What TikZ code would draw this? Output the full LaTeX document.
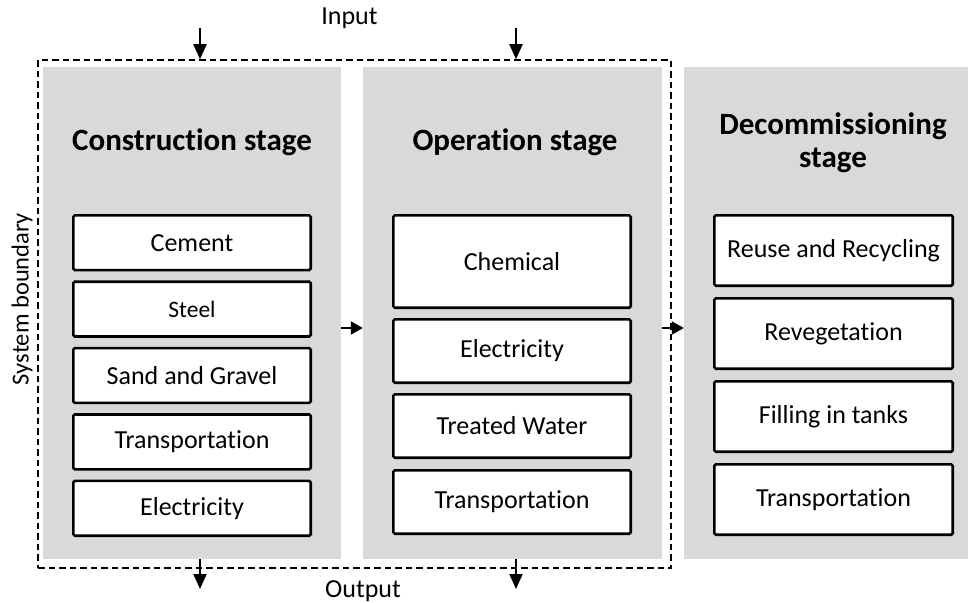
\documentclass[tikz,border=0pt]{standalone}
\usepackage{fontspec}
\setmainfont{Carlito}[Ligatures=NoCommon]
\usetikzlibrary{arrows.meta}
\definecolor{panelgray}{HTML}{D9D9D9}
\newcommand\dgItemFont{\fontsize{26}{30}\selectfont}
\newcommand\dgSmallFont{\fontsize{23.5}{28}\selectfont}
\newcommand\dgTitleFont{\fontsize{31}{33}\selectfont\bfseries}
\begin{document}
\begin{tikzpicture}[x=1pt,y=-1pt,
  panel/.style={fill=panelgray, draw=none, inner sep=0pt, minimum height=492pt},
  itembox/.style={draw=black, line width=2.6pt, fill=white, rounded corners=1.5pt,
    inner sep=0pt, font=\dgItemFont},
  cbox/.style={itembox, minimum width=237.4pt, minimum height=54.8pt},
  obox/.style={itembox, minimum width=237.4pt, minimum height=63.4pt},
  dbox/.style={itembox, minimum width=238.4pt, minimum height=70.4pt},
  stagetitle/.style={font=\dgTitleFont, inner sep=0pt, align=center},
  plainlabel/.style={font=\dgItemFont, inner sep=0pt},
  boundary/.style={draw=black, line width=1.5pt, dash pattern=on 6.5pt off 4pt,
    inner sep=0pt, fill=none},
  harrow/.style={line width=2pt, -{Triangle[length=12pt,width=13pt]}},
  varrow/.style={line width=2pt, -{Triangle[length=15pt,width=13pt]}}
]
\useasboundingbox (0,0) rectangle (968,602);
\fill[white] (0,0) rectangle (968,602);

% panels
\node[panel, minimum width=298pt] (p1) at (192,313) {};
\node[panel, minimum width=299pt] (p2) at (512.5,313) {};
\node[panel, minimum width=284pt] (p3) at (826,313) {};

% system boundary
\node[boundary, minimum width=633pt, minimum height=508pt] (sb) at (354.5,314) {};
\node[plainlabel, font=\fontsize{24.5}{29}\selectfont, rotate=90, anchor=base] (sblabel) at (28.5,299) {System boundary};

% titles
\node[stagetitle, anchor=base] (t1) at (192,150) {Construction stage};
\node[stagetitle, anchor=base] (t2) at (515,150) {Operation stage};
\node[stagetitle, anchor=base] (t3) at (833,167) {Decommissioning\\stage};

% construction items
\node[cbox] (c1) at (192,242.7) {Cement};
\node[cbox, font=\dgSmallFont] (c2) at (192,309.1) {Steel};
\node[cbox] (c3) at (192,375.5) {Sand and Gravel};
\node[cbox] (c4) at (192,441.9) {Transportation};
\node[cbox] (c5) at (192,508.3) {Electricity};

% operation items
\node[obox, minimum height=92.4pt] (o1) at (512,261.5) {Chemical};
\node[obox] (o2) at (512,351) {Electricity};
\node[obox] (o3) at (512,426) {Treated Water};
\node[obox] (o4) at (512,502) {Transportation};

% decommissioning items
\node[dbox] (d1) at (833.5,250.5) {Reuse and Recycling};
\node[dbox] (d2) at (833.5,333.5) {Revegetation};
\node[dbox] (d3) at (833.5,416.5) {Filling in tanks};
\node[dbox] (d4) at (833.5,499.5) {Transportation};

% flow arrows between stages
\draw[harrow] ([yshift=-15pt]p1.east) -- ([yshift=-15pt]p2.west);
\draw[harrow] ([yshift=-15pt]p2.east) -- ([yshift=-15pt]p3.west);

% input / output
\node[plainlabel, anchor=base] (inlabel) at (349.5,25) {Input};
\node[plainlabel, anchor=base] (outlabel) at (363,597) {Output};
\coordinate (in1) at (200,28);
\coordinate (in2) at (516,28);
\coordinate (out1) at (200,589);
\coordinate (out2) at (516,589);
\draw[varrow] (in1) -- (in1 |- sb.north);
\draw[varrow] (in2) -- (in2 |- sb.north);
\draw[varrow] (out1 |- p1.south) -- (out1);
\draw[varrow] (out2 |- p2.south) -- (out2);
\end{tikzpicture}
\end{document}
